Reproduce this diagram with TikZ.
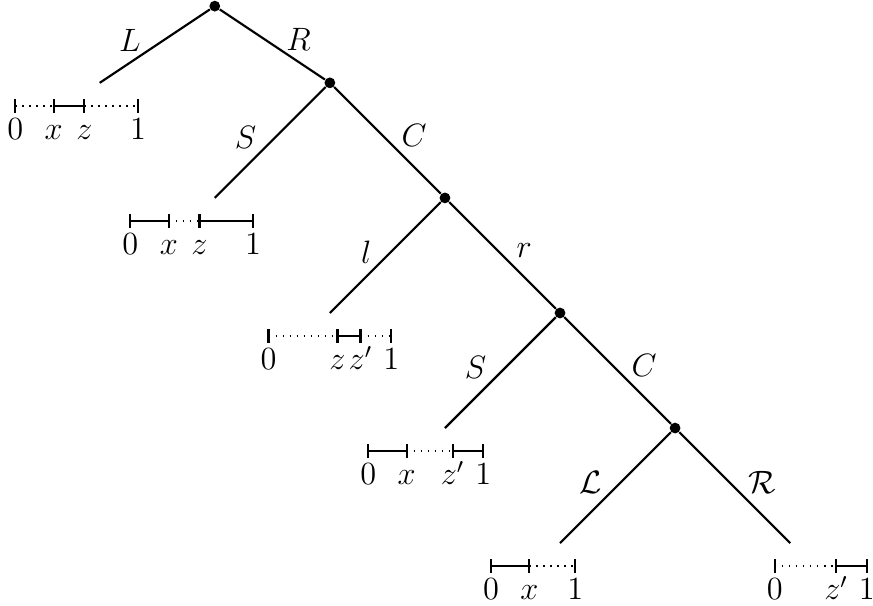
\documentclass[tikz,border=0pt]{standalone}
\usepackage{tikz}
\usetikzlibrary{positioning}

\begin{document}
\begin{tikzpicture}[
  font=\large,
  dot/.style={circle, fill=black, inner sep=0pt, minimum size=4pt},
  edge/.style={thick},
  lbl/.style={yshift=2pt},
  seg/.style={thick},
  gap/.style={dotted, line width=0.6pt},
  tickmark/.style={thick},
  num/.style={anchor=base}
]
\useasboundingbox (-2.8,0.08) rectangle (8.58,-7.81);

% Inner nodes
\node[dot] (root) at (0,0) {};
\node[dot] (nR) at (1.5,-1) {};
\node[dot] (nC) at (3,-2.5) {};
\node[dot] (nr) at (4.5,-4) {};
\node[dot] (nC2) at (6,-5.5) {};

% Leaves
\coordinate (leafL) at (-1.5,-1);
\coordinate (leafS) at (0,-2.5);
\coordinate (leafl) at (1.5,-4);
\coordinate (leafS2) at (3,-5.5);
\coordinate (leafcL) at (4.5,-7);
\coordinate (leafcR) at (7.5,-7);

% Edges
\draw[edge] (root) -- node[lbl, left=1.5pt] {$L$} (leafL);
\draw[edge] (root) -- node[lbl, right=1.5pt] {$R$} (nR);
\draw[edge] (nR) -- node[lbl, left=1.5pt] {$S$} (leafS);
\draw[edge] (nR) -- node[lbl, right=1.5pt] {$C$} (nC);
\draw[edge] (nC) -- node[lbl, left=1.5pt] {$l$} (leafl);
\draw[edge] (nC) -- node[lbl, right=1.5pt] {$r$} (nr);
\draw[edge] (nr) -- node[lbl, left=1.5pt] {$S$} (leafS2);
\draw[edge] (nr) -- node[lbl, right=1.5pt] {$C$} (nC2);
\draw[edge] (nC2) -- node[lbl, left=1.5pt] {$\mathcal{L}$} (leafcL);
\draw[edge] (nC2) -- node[lbl, right=1.5pt] {$\mathcal{R}$} (leafcR);

% Interval under L
\begin{scope}[shift={(-2.6,-1.3)}]
  \draw[gap] (0,0) -- (0.5,0);
  \draw[seg] (0.5,0) -- (0.9,0);
  \draw[gap] (0.9,0) -- (1.6,0);
  \foreach \t/\s [count=\i] in {0/0, 0.5/x, 0.9/z, 1.6/1}
    \draw[tickmark] (\t,-0.09) -- (\t,0.09) node[num] (ia\i) at (\t,-0.44) {$\s$};
\end{scope}

% Interval under S
\begin{scope}[shift={(-1.1,-2.8)}]
  \draw[seg] (0,0) -- (0.5,0);
  \draw[gap] (0.5,0) -- (0.9,0);
  \draw[seg] (0.9,0) -- (1.6,0);
  \foreach \t/\s [count=\i] in {0/0, 0.5/x, 0.9/z, 1.6/1}
    \draw[tickmark] (\t,-0.09) -- (\t,0.09) node[num] (ib\i) at (\t,-0.44) {$\s$};
\end{scope}

% Interval under l
\begin{scope}[shift={(0.7,-4.3)}]
  \draw[gap] (0,0) -- (0.9,0);
  \draw[seg] (0.9,0) -- (1.2,0);
  \draw[gap] (1.2,0) -- (1.6,0);
  \foreach \t/\s [count=\i] in {0/0, 0.9/z, 1.2/z', 1.6/1}
    \draw[tickmark] (\t,-0.09) -- (\t,0.09) node[num] (ic\i) at (\t,-0.44) {$\s$};
\end{scope}

% Interval under second S
\begin{scope}[shift={(2.0,-5.8)}]
  \draw[seg] (0,0) -- (0.5,0);
  \draw[gap] (0.5,0) -- (1.1,0);
  \draw[seg] (1.1,0) -- (1.5,0);
  \foreach \t/\s [count=\i] in {0/0, 0.5/x, 1.1/z', 1.5/1}
    \draw[tickmark] (\t,-0.09) -- (\t,0.09) node[num] (id\i) at (\t,-0.44) {$\s$};
\end{scope}

% Interval under calL
\begin{scope}[shift={(3.6,-7.3)}]
  \draw[seg] (0,0) -- (0.5,0);
  \draw[gap] (0.5,0) -- (1.1,0);
  \foreach \t/\s [count=\i] in {0/0, 0.5/x, 1.1/1}
    \draw[tickmark] (\t,-0.09) -- (\t,0.09) node[num] (ie\i) at (\t,-0.44) {$\s$};
\end{scope}

% Interval under calR
\begin{scope}[shift={(7.3,-7.3)}]
  \draw[gap] (0,0) -- (0.8,0);
  \draw[seg] (0.8,0) -- (1.2,0);
  \foreach \t/\s [count=\i] in {0/0, 0.8/z', 1.2/1}
    \draw[tickmark] (\t,-0.09) -- (\t,0.09) node[num] (if\i) at (\t,-0.44) {$\s$};
\end{scope}

\end{tikzpicture}
\end{document}
